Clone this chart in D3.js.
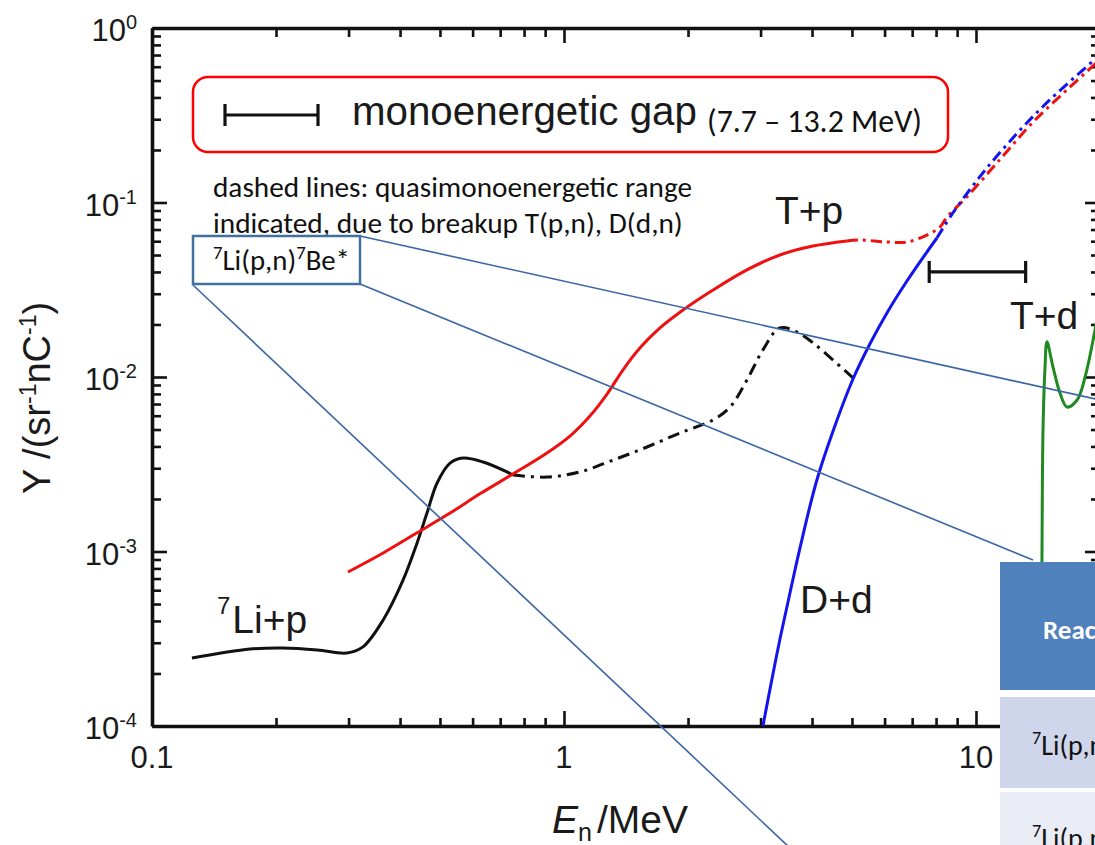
<!DOCTYPE html>
<html>
<head>
<meta charset="utf-8">
<script src="https://cdn.jsdelivr.net/npm/d3@7"></script>
<style>
  html, body { margin: 0; padding: 0; background: #fff; overflow: hidden; }
  svg { display: block; }
</style>
</head>
<body>
<svg id="chart" width="1095" height="845"></svg>
<script>
// Neutron yield vs. neutron energy
// E in MeV, Y in sr^-1 nC^-1

// 7Li+p : solid part and dash-dot part
const liSolidE = [0.125, 0.173, 0.208, 0.252, 0.297, 0.325, 0.364, 0.407, 0.440, 0.465, 0.492, 0.529, 0.569, 0.636, 0.727, 0.752];
const liSolidY = [2.45e-4, 2.76e-4, 2.80e-4, 2.73e-4, 2.62e-4, 2.84e-4, 4.05e-4, 6.87e-4, 1.12e-3, 1.66e-3, 2.47e-3, 3.21e-3, 3.43e-3, 3.26e-3, 2.86e-3, 2.74e-3];
const liDashE = [0.752, 0.909, 1.094, 1.315, 1.590, 1.913, 2.30, 2.53, 2.78, 3.04, 3.34, 3.68, 4.02, 4.50, 5.03];
const liDashY = [2.74e-3, 2.67e-3, 2.86e-3, 3.34e-3, 3.97e-3, 4.78e-3, 5.67e-3, 6.73e-3, 9.61e-3, 1.43e-2, 1.91e-2, 1.81e-2, 1.57e-2, 1.25e-2, 9.9e-3];

// T+p
const tpSolidE = [0.299, 0.364, 0.440, 0.529, 0.625, 0.752, 0.909, 1.034, 1.156, 1.272, 1.391, 1.530, 1.710, 1.945, 2.30, 2.78, 3.34, 4.02, 4.86];
const tpSolidY = [7.63e-4, 9.81e-4, 1.28e-3, 1.66e-3, 2.14e-3, 2.78e-3, 3.67e-3, 4.59e-3, 5.98e-3, 7.99e-3, 1.10e-2, 1.47e-2, 1.91e-2, 2.42e-2, 3.15e-2, 4.11e-2, 5.00e-2, 5.63e-2, 6.02e-2];
const tpDashE = [4.86, 5.23, 6.08, 6.80, 7.60, 8.18, 8.51, 9.51, 11.4, 13.7, 16.6, 20];
const tpDashY = [6.02e-2, 6.10e-2, 5.94e-2, 5.94e-2, 6.51e-2, 7.24e-2, 8.26e-2, 1.08e-1, 1.75e-1, 2.86e-1, 4.41e-1, 0.66];

// D+d
const ddSolidE = [3.04, 3.16, 3.34, 3.54, 3.74, 4.11, 4.60, 5.03, 5.53, 6.08, 6.80, 7.60, 8.04];
const ddSolidY = [1.0e-4, 1.61e-4, 3.11e-4, 5.86e-4, 1.05e-3, 2.57e-3, 5.67e-3, 9.74e-3, 1.55e-2, 2.33e-2, 3.55e-2, 5.20e-2, 6.26e-2];
const ddDashE = [8.04, 8.79, 10.4, 12.6, 15.1, 20];
const ddDashY = [6.26e-2, 8.71e-2, 1.48e-1, 2.50e-1, 3.87e-1, 0.70];

// T+d
const tdE = [14.40, 14.46, 14.54, 14.71, 14.87, 15.38, 15.99, 16.63, 17.6, 18.4, 19.45, 20];
const tdY = [3e-4, 9.2e-4, 4.78e-3, 1.14e-2, 1.59e-2, 1.14e-2, 8.10e-3, 6.73e-3, 7.38e-3, 1.0e-2, 1.86e-2, 2.76e-2];

// monoenergetic gap (MeV) and the height it is drawn at
const gapE = [7.7, 13.2];
const gapY = 0.04;

// tick labels
const xTickLabels = ["0.1", "1", "10"];
const yTickExponents = ["0", "-1", "-2", "-3", "-4"];

// table rows (right edge of the slide)
const tableHeader = "Reaction";
const tableRows = ["Li(p,n)", "Li(p,n)"];
const tableRowTails = ["Be", "Be*"];

const svg = d3.select("#chart");
const axisFont = "'Liberation Sans', Arial, Helvetica, sans-serif";
const noteFont = "Calibri, Carlito, Lato, 'Open Sans', sans-serif";

const x = d3.scaleLog().domain([0.1, 20]).range([152, 1100]);
const y = d3.scaleLog().domain([1e-4, 1]).range([726, 28]);

const isMajor = v => Math.abs(Math.log10(v) - Math.round(Math.log10(v))) < 1e-9;
const xTicks = x.ticks();
const yTicks = y.ticks();
const xMajor = xTicks.filter(isMajor);
const xMinor = xTicks.filter(v => !isMajor(v));
const yMajor = yTicks.filter(isMajor);
const yMinor = yTicks.filter(v => !isMajor(v));

// Frame axes, ticks point inward on all four sides
function frameAxis(gen, tx, ty, values, size, domain) {
    const g = svg.append("g")
        .attr("transform", `translate(${tx},${ty})`)
        .call(gen.tickValues(values).tickSize(size).tickSizeOuter(0).tickFormat(""));
    g.selectAll(".tick line").attr("stroke", "#111").attr("stroke-width", 2.6);
    g.select(".domain").attr("stroke", domain ? "#111" : "none").attr("stroke-width", 3.6);
}
frameAxis(d3.axisTop(x), 0, 726, xMinor, 8, true);
frameAxis(d3.axisTop(x), 0, 726, xMajor, 15, false);
frameAxis(d3.axisBottom(x), 0, 28, xMinor, 9, true);
frameAxis(d3.axisBottom(x), 0, 28, xMajor, 15, false);
frameAxis(d3.axisRight(y), 152, 0, yMinor, 9, true);
frameAxis(d3.axisRight(y), 152, 0, yMajor, 15, false);
frameAxis(d3.axisLeft(y), 1100, 0, yMinor, 9, true);
frameAxis(d3.axisLeft(y), 1100, 0, yMajor, 15, false);

// Tick labels
svg.append("g").selectAll("text")
    .data(xMajor)
    .join("text")
    .attr("x", d => x(d))
    .attr("y", 768)
    .attr("text-anchor", "middle")
    .attr("font-family", axisFont)
    .attr("font-size", 31)
    .attr("fill", "#1a1a1a")
    .text((d, i) => xTickLabels[i]);

const yLab = svg.append("g").selectAll("text")
    .data(yMajor.slice().reverse())
    .join("text")
    .attr("x", 137)
    .attr("y", d => y(d) + 13)
    .attr("text-anchor", "end")
    .attr("font-family", axisFont)
    .attr("font-size", 31)
    .attr("fill", "#1a1a1a");
yLab.append("tspan").text("10");
yLab.append("tspan").attr("dy", -12).attr("font-size", 20).text((d, i) => yTickExponents[i]);

// Axis titles
const yTitle = svg.append("text")
    .attr("transform", "translate(50,398) rotate(-90)")
    .attr("text-anchor", "middle")
    .attr("font-family", axisFont)
    .attr("font-size", 38)
    .attr("fill", "#1a1a1a");
yTitle.append("tspan").text("Y /(sr");
yTitle.append("tspan").attr("dy", -14).attr("font-size", 23).text("-1");
yTitle.append("tspan").attr("dy", 14).text("nC");
yTitle.append("tspan").attr("dy", -14).attr("font-size", 23).text("-1");
yTitle.append("tspan").attr("dy", 14).text(")");

const xTitle = svg.append("text")
    .attr("x", 552)
    .attr("y", 833)
    .attr("font-family", axisFont)
    .attr("font-size", 39)
    .attr("fill", "#1a1a1a");
xTitle.append("tspan").attr("font-style", "italic").text("E");
xTitle.append("tspan").attr("dy", 8).attr("font-size", 25).text("n");
xTitle.append("tspan").attr("dy", -8).attr("dx", 5).text("/MeV");

// Curves
svg.append("clipPath").attr("id", "plot-clip")
    .append("rect").attr("x", 152).attr("y", 28).attr("width", 948).attr("height", 698);
const plot = svg.append("g").attr("clip-path", "url(#plot-clip)");

const line = d3.line()
    .x(d => x(d[0]))
    .y(d => y(d[1]))
    .curve(d3.curveCatmullRom.alpha(0.5));

const series = [
    { e: liDashE, v: liDashY, color: "#111", dash: "12,6,3,6" },
    { e: liSolidE, v: liSolidY, color: "#111", dash: null },
    { e: tpSolidE, v: tpSolidY, color: "#ee1111", dash: null },
    { e: tpDashE, v: tpDashY, color: "#ee1111", dash: "11,5,3,5" },
    { e: ddSolidE, v: ddSolidY, color: "#1414ee", dash: null },
    { e: ddDashE, v: ddDashY, color: "#1414ee", dash: "11,5,3,5" },
    { e: tdE, v: tdY, color: "#1f8a1f", dash: null }
];

plot.selectAll("path.curve")
    .data(series)
    .join("path")
    .attr("class", "curve")
    .attr("d", s => line(d3.zip(s.e, s.v)))
    .attr("fill", "none")
    .attr("stroke", s => s.color)
    .attr("stroke-width", 3)
    .attr("stroke-dasharray", s => s.dash);

// Monoenergetic gap bar on the plot
const gap = svg.append("g").attr("stroke", "#111").attr("stroke-width", 3.2);
gap.append("line")
    .attr("x1", x(gapE[0])).attr("x2", x(gapE[1]))
    .attr("y1", y(gapY)).attr("y2", y(gapY));
gap.selectAll("line.cap")
    .data(gapE)
    .join("line")
    .attr("class", "cap")
    .attr("x1", d => x(d)).attr("x2", d => x(d))
    .attr("y1", y(gapY) - 11).attr("y2", y(gapY) + 11);

// Curve labels
const labelFont = 39;
function curveLabel(px, py, sup, txt) {
    const t = svg.append("text")
        .attr("x", px).attr("y", py)
        .attr("font-family", axisFont)
        .attr("font-size", labelFont)
        .attr("fill", "#1a1a1a");
    if (sup) {
        t.append("tspan").attr("font-size", 24).attr("dy", -19).text(sup);
        t.append("tspan").attr("dy", 19).attr("dx", 2).text(txt);
    } else {
        t.text(txt);
    }
}
curveLabel(775, 224, null, "T+p");
curveLabel(1010, 329, null, "T+d");
curveLabel(800, 613, null, "D+d");
curveLabel(217, 633, "7", "Li+p");

// Helper: scale a text's font so it spans a given width
function fitWidth(sel, w) {
    const cur = sel.node().getComputedTextLength();
    const fs = parseFloat(sel.attr("font-size"));
    sel.attr("font-size", fs * w / cur);
}

// Text with superscript mass numbers, e.g. 7Li(p,n)7Be*
function isotopeText(sel, parts) {
    parts.forEach(p => {
        const t = sel.append("tspan").text(p.t);
        if (p.sup) t.attr("font-size", "0.65em").attr("baseline-shift", "super");
    });
}

// Legend box with the gap symbol
svg.append("rect")
    .attr("x", 193).attr("y", 77)
    .attr("width", 755).attr("height", 75)
    .attr("rx", 15)
    .attr("fill", "#fff")
    .attr("stroke", "#ff0000")
    .attr("stroke-width", 2.5);
const legendBar = svg.append("g").attr("stroke", "#111").attr("stroke-width", 3.2);
legendBar.append("line").attr("x1", 225).attr("x2", 318).attr("y1", 115).attr("y2", 115);
legendBar.append("line").attr("x1", 225).attr("x2", 225).attr("y1", 104).attr("y2", 126);
legendBar.append("line").attr("x1", 318).attr("x2", 318).attr("y1", 104).attr("y2", 126);

const mono = svg.append("text")
    .attr("x", 352).attr("y", 125)
    .attr("font-family", axisFont)
    .attr("font-size", 40)
    .attr("fill", "#1a1a1a")
    .text("monoenergetic gap");
fitWidth(mono, 345);
const range = svg.append("text")
    .attr("x", 707).attr("y", 132)
    .attr("font-family", noteFont)
    .attr("font-size", 27)
    .attr("fill", "#111")
    .text("(7.7 \u2013 13.2 MeV)");
fitWidth(range, 215);

// Notes
const note1 = svg.append("text")
    .attr("x", 213).attr("y", 197)
    .attr("font-family", noteFont).attr("font-size", 26).attr("fill", "#111")
    .text("dashed lines: quasimonoenergetic range");
fitWidth(note1, 479);
const note2 = svg.append("text")
    .attr("x", 213).attr("y", 233)
    .attr("font-family", noteFont).attr("font-size", 26).attr("fill", "#111")
    .text("indicated, due to breakup T(p,n), D(d,n)");
fitWidth(note2, 470);

// Callout box and its leader lines
const callout = "#3a66a6";
svg.append("g")
    .attr("stroke", callout)
    .attr("stroke-width", 1.6)
    .selectAll("line")
    .data([[360, 236, 1100, 400], [360, 284, 1033, 560], [193, 285, 790, 848]])
    .join("line")
    .attr("x1", d => d[0]).attr("y1", d => d[1])
    .attr("x2", d => d[2]).attr("y2", d => d[3]);
svg.append("rect")
    .attr("x", 193).attr("y", 236)
    .attr("width", 167).attr("height", 48)
    .attr("fill", "none")
    .attr("stroke", "#41719c")
    .attr("stroke-width", 2.5);
const liBox = svg.append("text")
    .attr("x", 213).attr("y", 270)
    .attr("font-family", noteFont).attr("font-size", 26).attr("fill", "#111");
isotopeText(liBox, [{ t: "7", sup: true }, { t: "Li(p,n)" }, { t: "7", sup: true }, { t: "Be*" }]);
fitWidth(liBox, 137);

// Table fragment at the right edge
const table = svg.append("g");
table.append("rect").attr("x", 1000).attr("y", 562).attr("width", 120).attr("height", 290).attr("fill", "#fff");
table.append("rect").attr("x", 1000).attr("y", 562).attr("width", 120).attr("height", 128).attr("fill", "#4f81bd");
table.append("rect").attr("x", 1000).attr("y", 697).attr("width", 120).attr("height", 91).attr("fill", "#cfd5ea");
table.append("rect").attr("x", 1000).attr("y", 792).attr("width", 120).attr("height", 60).attr("fill", "#e9ebf5");
table.append("text")
    .attr("x", 1043).attr("y", 639)
    .attr("font-family", noteFont).attr("font-weight", "bold")
    .attr("font-size", 27).attr("fill", "#fff")
    .text(tableHeader);
table.selectAll("text.row")
    .data(tableRows)
    .join("text")
    .attr("class", "row")
    .attr("x", 1032)
    .attr("y", (d, i) => [755, 848][i])
    .attr("font-family", noteFont)
    .attr("font-size", 28)
    .attr("fill", "#111")
    .each(function (d, i) {
        isotopeText(d3.select(this), [{ t: "7", sup: true }, { t: d }, { t: "7", sup: true }, { t: tableRowTails[i] }]);
    });
</script>
</body>
</html>
